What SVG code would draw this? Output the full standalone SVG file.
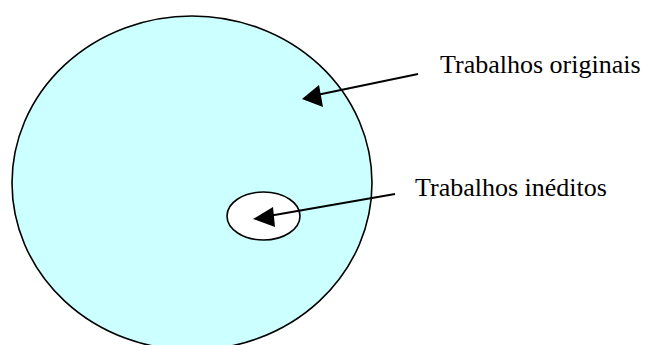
<svg xmlns="http://www.w3.org/2000/svg" width="647" height="345" viewBox="0 0 647 345">
<style>
.shape{stroke:#000;stroke-width:1.6}
.line{stroke:#000;stroke-width:1.8;fill:none}
.head{fill:#000;stroke:none}
.lbl{font-family:"Liberation Serif","Times New Roman",serif;font-size:26px;fill:#000}
</style>
<rect width="647" height="345" fill="#fff"/>
<g id="originais">
<ellipse class="shape" cx="192" cy="183" rx="180" ry="167" fill="#CCFFFF"/>
</g>
<g id="ineditos">
<ellipse class="shape" cx="263.5" cy="216" rx="36.5" ry="24" fill="#fff"/>
</g>
<g id="label-originais">
<text class="lbl" x="440" y="73">Trabalhos originais</text>
</g>
<g id="label-ineditos">
<text class="lbl" x="415" y="196">Trabalhos inéditos</text>
</g>
<g id="connectors">
<line class="line" x1="418" y1="74" x2="312" y2="96"/>
<polygon class="head" points="302,99 319,85 323,107"/>
<line class="line" x1="395" y1="194" x2="263" y2="217"/>
<polygon class="head" points="253,219 273,207 275,227"/>
</g>
</svg>
